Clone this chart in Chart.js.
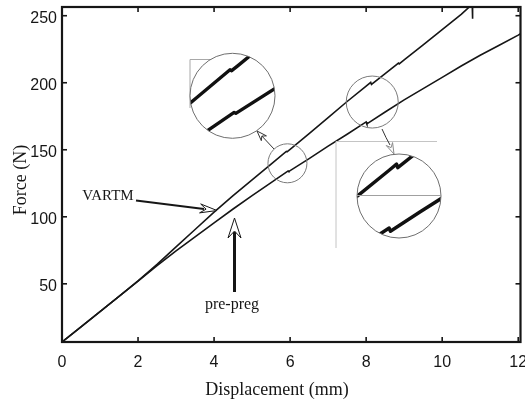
<!DOCTYPE html>
<html>
<head>
<meta charset="utf-8">
<script src="https://cdn.jsdelivr.net/npm/chart.js@4.4.1/dist/chart.umd.min.js"></script>
<style>
  html, body { margin: 0; padding: 0; background: #fff; }
  #wrap { width: 525px; height: 402px; }
</style>
</head>
<body>
<div id="wrap"><canvas id="forceChart" width="525" height="402"></canvas></div>
<script>
// values: displacement (mm) and force (N)
const vartmDisp = [0, 0.5, 1.0, 1.5, 2.0, 2.5, 3.0, 3.5, 4.0, 4.5, 5.0, 5.5, 5.9, 5.92, 6.0, 6.5, 7.0, 7.5, 8.0, 8.12, 8.14, 8.5, 8.85, 8.87, 9.0, 9.5, 10.0, 10.5, 10.79, 10.8];
const vartmForce = [6.6, 17.8, 29.2, 40.6, 52.2, 64.5, 77.5, 90.5, 103.5, 115.8, 127.6, 139.3, 148.8, 148.5, 150.3, 162.0, 174.0, 186.0, 197.5, 200.3, 198.7, 206.8, 214.6, 214.0, 217.0, 228.3, 239.6, 251.0, 258.5, 247.7];
const prepregDisp = [0, 0.5, 1.0, 1.5, 2.0, 2.5, 3.0, 3.5, 4.0, 4.5, 5.0, 5.5, 5.95, 5.97, 6.5, 7.0, 7.5, 8.0, 8.02, 8.5, 9.0, 9.5, 10.0, 10.5, 11.0, 11.5, 12.0, 12.06];
const prepregForce = [6.6, 17.8, 29.2, 40.6, 52.0, 63.5, 74.5, 85.0, 95.5, 105.8, 115.8, 125.5, 134.2, 133.9, 143.4, 152.7, 161.6, 170.8, 169.3, 178.2, 187.2, 195.6, 204.0, 212.5, 220.5, 228.0, 235.5, 236.5];
const seriesNames = ['VARTM', 'pre-preg'];
const xTicks = [0, 2, 4, 6, 8, 10, 12];
const yTicks = [50, 100, 150, 200, 250];

const ink = '#161616';
const serif = '"Liberation Serif", "Times New Roman", serif';

function toPoints(xs, ys) {
    return xs.map((x, i) => ({ x: x, y: ys[i] }));
}

// zoomed views: small circle (data coords) -> big circle (pixels)
const zooms = [
    { at: { x: 5.93, y: 139.9 }, r: 19.5, cx: 232.5, cy: 95.8, R: 42.5 },
    { at: { x: 8.16, y: 185.6 }, r: 26, cx: 399, cy: 196, R: 42 }
];

function line(ctx, x1, y1, x2, y2) {
    ctx.beginPath();
    ctx.moveTo(x1, y1);
    ctx.lineTo(x2, y2);
    ctx.stroke();
}

// open barbed arrow head, tip at (tx,ty), pointing away from (fx,fy)
function arrowHead(ctx, tx, ty, fx, fy, len, half, notch) {
    const a = Math.atan2(ty - fy, tx - fx);
    const c = Math.cos(a), s = Math.sin(a);
    const bx = tx - len * c, by = ty - len * s;
    ctx.beginPath();
    ctx.moveTo(tx, ty);
    ctx.lineTo(bx - half * s, by + half * c);
    ctx.lineTo(tx - notch * c, ty - notch * s);
    ctx.lineTo(bx + half * s, by - half * c);
    ctx.closePath();
    ctx.fillStyle = '#fff';
    ctx.fill();
    ctx.stroke();
}

const annotations = {
    id: 'annotations',
    afterDatasetsDraw(chart) {
        const ctx = chart.ctx;
        const { x, y } = chart.scales;
        ctx.save();

        // pasted-frame leftovers around the zoomed views
        ctx.lineWidth = 1;
        ctx.strokeStyle = '#a8a8a8';
        line(ctx, 190, 59.5, 212, 59.5);
        line(ctx, 190, 59.5, 190, 108);
        ctx.strokeStyle = '#c4c4c4';
        line(ctx, 336, 141.5, 437, 141.5);
        line(ctx, 336, 141.5, 336, 248);

        zooms.forEach(z => {
            const sx = x.getPixelForValue(z.at.x), sy = y.getPixelForValue(z.at.y);
            const k = z.R / z.r;
            // small circle on the curves
            ctx.strokeStyle = '#7a7a7a';
            ctx.lineWidth = 1;
            ctx.beginPath();
            ctx.arc(sx, sy, z.r, 0, Math.PI * 2);
            ctx.stroke();
            // enlarged view
            ctx.save();
            ctx.beginPath();
            ctx.arc(z.cx, z.cy, z.R, 0, Math.PI * 2);
            ctx.fillStyle = '#fff';
            ctx.fill();
            ctx.clip();
            chart.data.datasets.forEach((ds, i) => {
                const pts = chart.getDatasetMeta(i).data;
                ctx.beginPath();
                pts.forEach((p, j) => {
                    const px = z.cx + k * (p.x - sx), py = z.cy + k * (p.y - sy);
                    if (j === 0) ctx.moveTo(px, py); else ctx.lineTo(px, py);
                });
                ctx.lineWidth = 3.4;
                ctx.lineJoin = 'round';
                ctx.strokeStyle = '#111';
                ctx.stroke();
            });
            ctx.restore();
            ctx.strokeStyle = '#6e6e6e';
            ctx.lineWidth = 1;
            ctx.beginPath();
            ctx.arc(z.cx, z.cy, z.R, 0, Math.PI * 2);
            ctx.stroke();
        });

        // divider inside second view
        ctx.strokeStyle = '#a0a0a0';
        line(ctx, 357, 195.5, 441, 195.5);

        // arrows from the small circles to the views
        ctx.strokeStyle = '#333';
        ctx.lineWidth = 1;
        line(ctx, 274, 149, 260, 134);
        arrowHead(ctx, 257, 131, 274, 149, 10, 3.5, 7);
        ctx.beginPath();
        ctx.moveTo(382, 129);
        ctx.quadraticCurveTo(386, 138, 390, 145);
        ctx.stroke();
        ctx.strokeStyle = '#8a8a8a';
        arrowHead(ctx, 394, 154, 388, 141, 11, 3.5, 7);

        // series labels
        ctx.fillStyle = ink;
        ctx.strokeStyle = ink;
        ctx.textBaseline = 'middle';
        ctx.textAlign = 'center';
        ctx.font = '15px ' + serif;
        ctx.fillText(seriesNames[0], 108, 196);
        ctx.font = '16px ' + serif;
        ctx.fillText(seriesNames[1], 232, 305);

        ctx.lineWidth = 1.8;
        line(ctx, 136, 200.5, 204, 209);
        ctx.lineWidth = 1;
        arrowHead(ctx, 217, 210.5, 136, 200.5, 17, 4.5, 11);

        ctx.lineWidth = 3;
        line(ctx, 234.5, 292, 234.5, 232);
        ctx.lineWidth = 1;
        arrowHead(ctx, 234.5, 218, 234.5, 292, 20, 6.5, 13);
        ctx.restore();
    }
};

// boxed axes with inward ticks on all four sides, plus axis titles
const frameTicks = {
    id: 'frameTicks',
    afterDraw(chart) {
        const ctx = chart.ctx;
        const a = chart.chartArea;
        const { x, y } = chart.scales;
        ctx.save();
        ctx.strokeStyle = ink;
        ctx.lineWidth = 1.6;
        xTicks.forEach(v => {
            const px = x.getPixelForValue(v);
            line(ctx, px, a.bottom, px, a.bottom - 5);
            line(ctx, px, a.top, px, a.top + 5);
        });
        yTicks.forEach(v => {
            const py = y.getPixelForValue(v);
            line(ctx, a.left, py, a.left + 5, py);
            line(ctx, a.right, py, a.right - 5, py);
        });
        ctx.lineWidth = 2.2;
        ctx.strokeRect(a.left, a.top, a.right - a.left, a.bottom - a.top);

        ctx.fillStyle = ink;
        ctx.textBaseline = 'middle';
        ctx.textAlign = 'center';
        ctx.font = '18px ' + serif;
        ctx.fillText('Displacement (mm)', 277, 390);
        ctx.translate(21, 180);
        ctx.rotate(-Math.PI / 2);
        ctx.fillText('Force (N)', 0, 0);
        ctx.restore();
    }
};

const tickFont = { family: '"Liberation Sans", Arial, sans-serif', size: 16 };

new Chart(document.getElementById('forceChart'), {
    type: 'line',
    data: {
        datasets: [
            { label: seriesNames[0], data: toPoints(vartmDisp, vartmForce) },
            { label: seriesNames[1], data: toPoints(prepregDisp, prepregForce) }
        ]
    },
    options: {
        responsive: false,
        animation: false,
        events: [],
        elements: {
            line: { borderColor: ink, borderWidth: 1.6, tension: 0, fill: false },
            point: { radius: 0 }
        },
        layout: { padding: { top: 7, right: 4.5, left: 0, bottom: 0 } },
        plugins: { legend: { display: false }, tooltip: { enabled: false } },
        scales: {
            x: {
                type: 'linear',
                min: 0,
                max: 12.06,
                grid: { display: false, drawTicks: false },
                border: { display: false },
                ticks: { font: tickFont, color: ink, padding: 11, maxRotation: 0, autoSkip: false },
                afterBuildTicks: s => { s.ticks = xTicks.map(v => ({ value: v })); },
                afterFit: s => { s.height = 60; s.paddingLeft = 0; s.paddingRight = 0; }
            },
            y: {
                type: 'linear',
                min: 6.6,
                max: 256.5,
                grid: { display: false, drawTicks: false },
                border: { display: false },
                ticks: { font: tickFont, color: ink, padding: 5, labelOffset: 3 },
                afterBuildTicks: s => { s.ticks = yTicks.map(v => ({ value: v })); },
                afterFit: s => { s.width = 62; s.paddingTop = 0; s.paddingBottom = 0; }
            }
        }
    },
    plugins: [annotations, frameTicks]
});
</script>
</body>
</html>
